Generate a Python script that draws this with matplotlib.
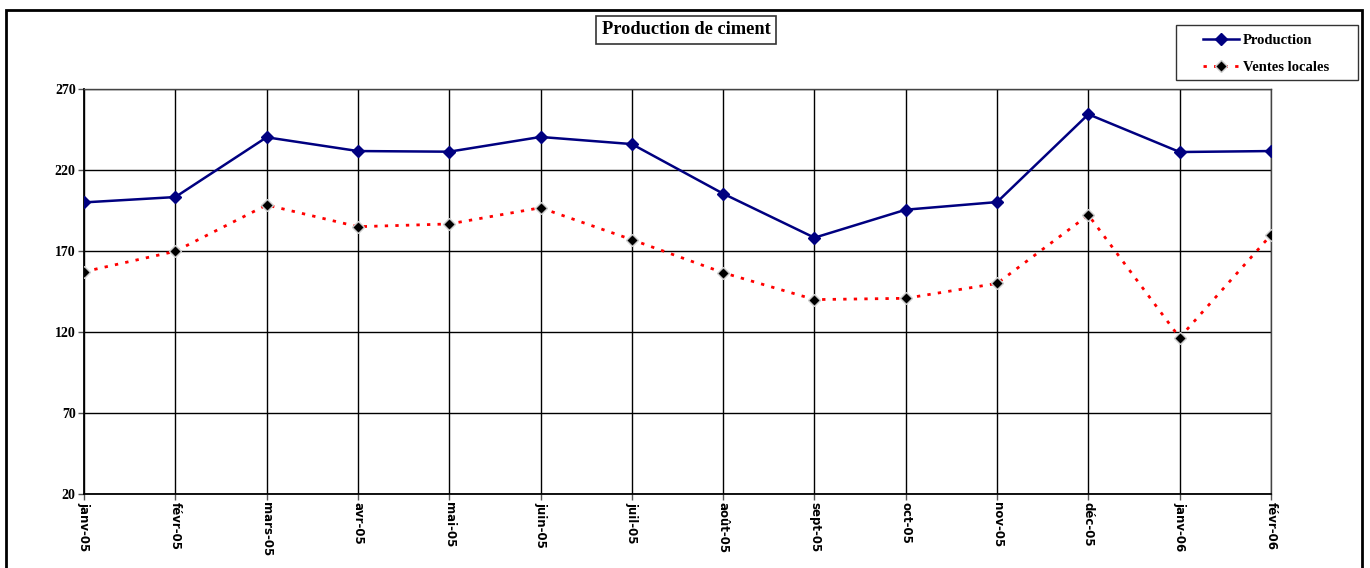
import matplotlib
matplotlib.use("Agg")
import matplotlib.pyplot as plt
from matplotlib.patches import Rectangle

months = ["janv-05", "févr-05", "mars-05", "avr-05", "mai-05", "juin-05", "juil-05",
          "août-05", "sept-05", "oct-05", "nov-05", "déc-05", "janv-06", "févr-06"]
production = [200.0, 203.3, 240.2, 231.7, 231.3, 240.4, 236.0,
              205.4, 178.2, 195.5, 200.2, 254.4, 231.1, 231.7]
ventes_locales = [157.2, 169.8, 198.4, 185.0, 186.7, 196.7, 177.0,
                  156.6, 140.0, 140.8, 150.0, 192.2, 116.5, 179.9]
yticks = [20, 70, 120, 170, 220, 270]

fig = plt.figure(figsize=(13.7, 5.68), dpi=100)
ax = fig.add_axes([84/1370, 1-494/568, (1271-84)/1370, (494-89)/568])

x = list(range(len(months)))
ax.plot(x, production, color="#000080", lw=1.8, marker="D", ms=6.5,
        mec="#000080", mfc="#000080", label="Production", zorder=4)
ax.plot(x, ventes_locales, color="#FF0000", lw=2, linestyle=(0, (1.2, 2.6)),
        marker="D", ms=6, mfc="black", mec="#cccccc", mew=1.0,
        label="Ventes locales", zorder=4)

ax.set_xlim(0, len(months) - 1)
ax.set_ylim(20, 270)
ax.set_yticks(yticks)
ax.set_yticklabels([str(v) for v in yticks], fontfamily="Liberation Serif",
                   fontweight="bold", fontsize=10)
ax.set_xticks(x)
ax.set_xticklabels(months, rotation=-90, fontfamily="DejaVu Sans",
                   fontweight="bold", fontsize=8.5, va="top", ha="center")
ax.tick_params(axis="both", direction="out", length=4, width=1, color="#555555", pad=2)
ax.grid(True, color="black", lw=1.0, zorder=1)
ax.set_axisbelow(True)
for s in ["top", "right"]:
    ax.spines[s].set_color("#444444")
    ax.spines[s].set_linewidth(1.0)
for s in ["left", "bottom"]:
    ax.spines[s].set_color("black")
    ax.spines[s].set_linewidth(1.3)

fig.text(686/1370, 1-30/568, "Production de ciment", ha="center", va="center",
         fontfamily="Liberation Serif", fontweight="bold", fontsize=13.2,
         bbox=dict(boxstyle="square,pad=0.3", fc="white", ec="#333333", lw=1.2))

# legend frame drawn separately to match the wide padding of the original
fig.patches.append(Rectangle((1176/1370, 1-80/568), (1358-1176)/1370, 55/568,
                             transform=fig.transFigure, fill=True, fc="white",
                             ec="#333333", lw=1.0, zorder=0))
leg = fig.legend(loc="upper left", bbox_to_anchor=(1203/1370, 1-34/568),
                 borderaxespad=0, borderpad=0,
                 prop=dict(family="Liberation Serif", weight="bold", size=10.5),
                 frameon=False, handlelength=2.5, labelspacing=0.95,
                 handletextpad=0.25)

fig.patches.append(Rectangle((6/1370, -0.05), (1362-6)/1370, 1.05 - 10/568,
                             transform=fig.transFigure, fill=False, ec="black", lw=2))

fig.savefig("out.png", dpi=100, facecolor="white")
